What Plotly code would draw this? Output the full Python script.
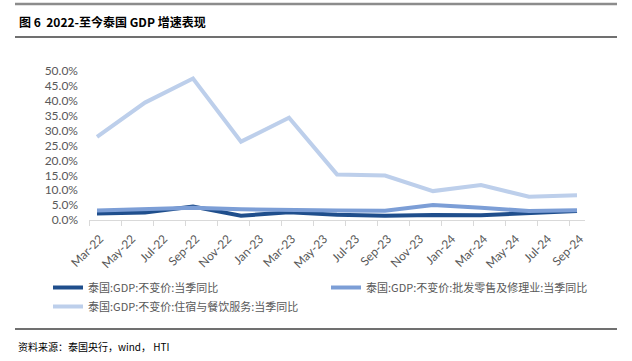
import plotly.graph_objects as go

# ---- data ----
quarters = ["Mar-22", "Jun-22", "Sep-22", "Dec-22", "Mar-23", "Jun-23",
            "Sep-23", "Dec-23", "Mar-24", "Jun-24", "Sep-24"]
month_index = [0, 3, 6, 9, 12, 15, 18, 21, 24, 27, 30]
gdp_total = [2.2, 2.5, 4.5, 1.4, 2.6, 1.8, 1.4, 1.7, 1.6, 2.2, 3.0]
gdp_trade = [3.2, 3.7, 4.1, 3.6, 3.3, 3.2, 3.1, 5.0, 4.1, 3.0, 3.3]
gdp_hotel = [27.9, 39.4, 47.5, 26.3, 34.3, 15.3, 14.9, 9.7, 11.7, 7.8, 8.3]
tick_labels = ["Mar-22", "May-22", "Jul-22", "Sep-22", "Nov-22", "Jan-23",
               "Mar-23", "May-23", "Jul-23", "Sep-23", "Nov-23", "Jan-24",
               "Mar-24", "May-24", "Jul-24", "Sep-24"]
series_names = ["泰国:GDP:不变价:当季同比",
                "泰国:GDP:不变价:批发零售及修理业:当季同比",
                "泰国:GDP:不变价:住宿与餐饮服务:当季同比"]
y_ticks = [0, 5, 10, 15, 20, 25, 30, 35, 40, 45, 50]

W, H = 632, 361
L, R, T, B = 89, 585, 71, 220


def px_x(p):
    return (p - L) / (R - L)


def px_y(p):
    return (B - p) / (B - T)


fig = go.Figure()
colors = ["#1F4E8C", "#7C9ED6", "#BDCFEB"]
order = [(gdp_total, 0), (gdp_trade, 1), (gdp_hotel, 2)]
for vals, i in order:
    fig.add_trace(go.Scatter(
        x=month_index, y=vals, mode="lines", name=series_names[i],
        line=dict(color=colors[i], width=4), cliponaxis=False))

tickfont = dict(family="Lato, Liberation Sans, sans-serif", size=12, color="#595959")
fig.update_xaxes(
    range=[-0.5, 30.5], tickmode="array",
    tickvals=list(range(0, 31, 2)), ticktext=tick_labels,
    tickangle=-45, ticks="", showgrid=False, zeroline=False,
    showline=True, linecolor="#D9D9D9", linewidth=1.3,
    tickfont=tickfont, ticklabelstandoff=6, ticklabelshift=3,
    minor=dict(tickmode="array", tickvals=[-0.5 + 2 * k for k in range(16)],
               ticks="outside", ticklen=5, tickcolor="#D9D9D9", tickwidth=1,
               showgrid=False),
)
fig.update_yaxes(
    range=[0, 50], tickmode="array", tickvals=y_ticks,
    ticktext=[f"{v:.1f}%" for v in y_ticks],
    showgrid=False, zeroline=False, showline=False, ticks="",
    tickfont=tickfont, ticklabelstandoff=10,
)

shapes = []
for y0, color, w in [(4, "#8C8C8C", 2.5), (37, "#404040", 1.5), (329, "#404040", 1.5)]:
    shapes.append(dict(type="line", xref="paper", yref="paper",
                       x0=px_x(15), x1=px_x(617), y0=px_y(y0), y1=px_y(y0),
                       line=dict(color=color, width=w)))

annotations = [
    dict(text="<b>图 6  2022-至今泰国 GDP 增速表现</b>", xref="paper", yref="paper",
         x=px_x(17), y=px_y(21), xanchor="left", yanchor="middle", showarrow=False,
         font=dict(family="Noto Sans CJK SC", size=12, color="#000000")),
    dict(text="资料来源：泰国央行，wind， HTI", xref="paper", yref="paper",
         x=px_x(16), y=px_y(346), xanchor="left", yanchor="middle", showarrow=False,
         font=dict(family="Noto Sans CJK SC", size=10, color="#000000")),
]

fig.update_layout(
    width=W, height=H,
    margin=dict(l=L, r=W - R, t=T, b=H - B, pad=0),
    paper_bgcolor="white", plot_bgcolor="white",
    shapes=shapes, annotations=annotations,
    showlegend=True,
    legend=dict(orientation="h", x=px_x(48), y=px_y(273), xanchor="left", yanchor="top",
                entrywidth=233, entrywidthmode="pixels", tracegroupgap=0,
                itemwidth=30,
                font=dict(family="Noto Sans CJK SC", size=11, color="#595959")),
)

fig.write_html("out.html", config={"displayModeBar": False},
               post_script="document.body.style.margin='0';")
